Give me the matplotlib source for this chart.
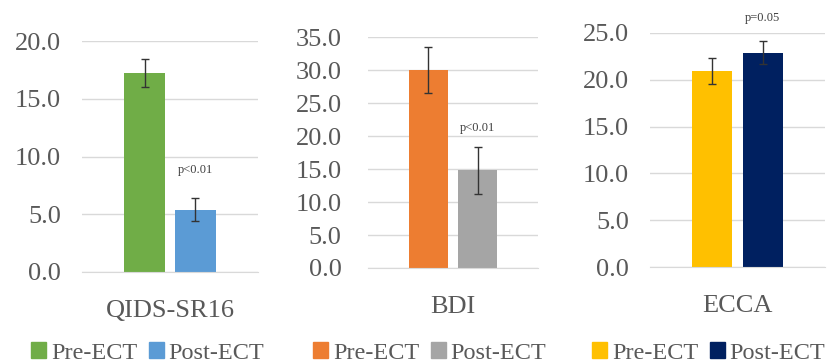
import numpy as np
import matplotlib
matplotlib.use('Agg')
import matplotlib.pyplot as plt
import matplotlib.patches as mpatches

plt.rcParams['font.family'] = ['Liberation Serif', 'DejaVu Serif']

# Scale scores before and after ECT
scales = ['QIDS-SR16', 'BDI', 'ECCA']
groups = ['Pre-ECT', 'Post-ECT']
means = [[17.2, 5.4], [30.0, 14.8], [20.9, 22.9]]
errors = [[1.2, 1.0], [3.5, 3.6], [1.4, 1.2]]
p_labels = ['p<0.01', 'p<0.01', 'p=0.05']
p_label_y = [8.8, 21.2, 26.6]
y_max = [20, 35, 25]
y_step = [5, 5, 5]
bar_colors = [['#70AD47', '#5B9BD5'], ['#ED7D31', '#A5A5A5'], ['#FFC000', '#002060']]

TEXT = '#595959'
GRID = '#D9D9D9'

W, H = 838, 364
fig = plt.figure(figsize=(W / 100, H / 100), dpi=100)

# axes boxes in pixels: left, right, top (y of max gridline), bottom (y of zero line)
boxes = [(82, 258, 41, 272), (368, 538, 37, 268), (650, 825, 33, 267)]
ytick_pads = [15, 19, 15]
legend_centers = [148, 430, 709]

for i, name in enumerate(scales):
    x0, x1, yt, yb = boxes[i]
    ax = fig.add_axes([x0 / W, 1 - yb / H, (x1 - x0) / W, (yb - yt) / H])

    pos = np.arange(len(groups)) - (len(groups) - 1) / 2
    ax.bar(pos, means[i], width=0.8, color=bar_colors[i], zorder=2)
    ax.errorbar(pos, means[i], yerr=errors[i], fmt='none', ecolor='#333333',
                elinewidth=1.0, capsize=3, capthick=1.0, zorder=3)

    ax.set_xlim(-1.73, 1.73)
    ax.set_ylim(0, y_max[i])
    ticks = np.arange(0, y_max[i] + 0.1, y_step[i])
    ax.set_yticks(ticks)
    ax.set_yticklabels([f'{t:.1f}' for t in ticks])
    ax.set_xticks([0])
    ax.set_xticklabels([name])

    ax.grid(axis='y', color=GRID, linewidth=1.0, zorder=0)
    ax.set_axisbelow(True)
    for s in ['top', 'right', 'left']:
        ax.spines[s].set_visible(False)
    ax.spines['bottom'].set_color(GRID)
    ax.tick_params(axis='both', length=0, labelsize=19, colors=TEXT)
    ax.tick_params(axis='y', pad=ytick_pads[i])
    ax.tick_params(axis='x', pad=20)

    ax.text(pos[1], p_label_y[i], p_labels[i], ha='center', va='center',
            fontsize=9, color='#404040', clip_on=False)

    handles = [mpatches.Patch(color=c) for c in bar_colors[i]]
    ax.legend(handles, groups, loc='center', ncol=2, frameon=False,
              bbox_to_anchor=(legend_centers[i] / W, 1 - 353 / H),
              bbox_transform=fig.transFigure, fontsize=17.5,
              handlelength=0.6, handleheight=0.6, handletextpad=0.2,
              columnspacing=0.5, labelcolor=TEXT, borderpad=0)

fig.savefig('out.png', dpi=100)
